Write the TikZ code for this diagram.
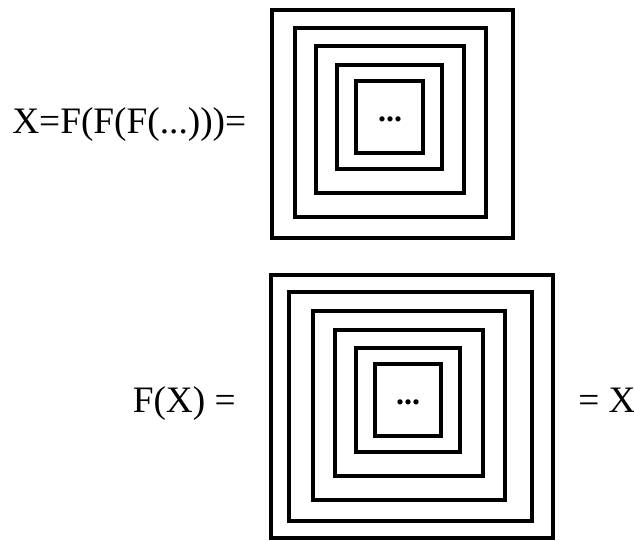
\documentclass[tikz,border=0pt]{standalone}
\usepackage{fontspec}
\setmainfont{Liberation Serif}
\usetikzlibrary{positioning}
\tikzset{
  frame/.style={draw=black, line width=2.5pt},
  eqtext/.style={font=\fontsize{28}{32}\selectfont, inner sep=0pt},
  dots/.style={font=\fontsize{24}{28}\selectfont\bfseries, inner sep=0pt}
}

\begin{document}
\begin{tikzpicture}[x=0.75pt,y=-0.75pt]
  \useasboundingbox (0,0) rectangle (634,540);

  % upper nest of frames
  \foreach \xa/\ya/\xb/\yb in {272/10/513/238, 295/28/486/217, 316/46/464/193,
                               337/65/442/169, 356/81/423/153}
    \draw[frame] (\xa,\ya) rectangle (\xb,\yb);
  \node[eqtext, anchor=base west] (lhsTop) at (12,133) {X=F(F(F(...)))=};
  \node[dots, anchor=base] (dotsTop) at (390,121) {...};

  % lower nest of frames
  \foreach \xa/\ya/\xb/\yb in {271/275/553/538, 289/292/532/521, 313/311/505/500,
                               335/330/483/476, 356/348/460/452, 375/364/441/436}
    \draw[frame] (\xa,\ya) rectangle (\xb,\yb);
  \node[eqtext, anchor=base east] (lhsBot) at (236,412) {F(X) =};
  \node[eqtext, anchor=base west] (rhsBot) at (578,412) {= X};
  \node[dots, anchor=base] (dotsBot) at (408,404) {...};
\end{tikzpicture}
\end{document}
